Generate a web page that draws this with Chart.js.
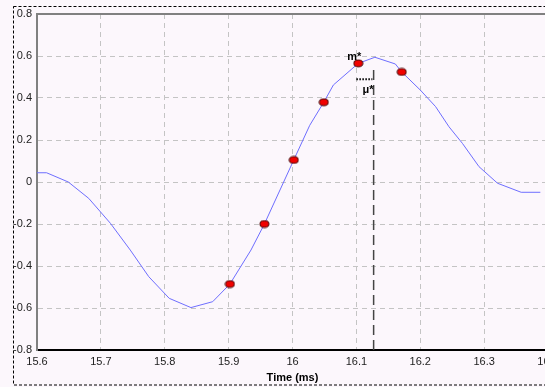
<!DOCTYPE html>
<html>
<head>
<meta charset="utf-8">
<script src="https://cdn.jsdelivr.net/npm/chart.js@4/dist/chart.umd.min.js"></script>
<style>
  html, body { margin: 0; padding: 0; overflow: hidden; background: #fcf7fc; }
  #wrap { width: 560px; height: 387px; }
</style>
</head>
<body>
<div id="wrap"><canvas id="myChart" width="560" height="387"></canvas></div>
<script>
// waveform (time in ms, amplitude)
const timeMs = [15.600, 15.615, 15.649, 15.681, 15.715, 15.746, 15.775, 15.807, 15.841, 15.875,
  15.902, 15.935, 15.956, 16.002, 16.027, 16.049, 16.064, 16.103, 16.129, 16.161,
  16.171, 16.200, 16.224, 16.245, 16.266, 16.292, 16.321, 16.358, 16.388];
const amplitude = [0.044, 0.044, 0.000, -0.078, -0.197, -0.324, -0.451, -0.554, -0.598, -0.570,
  -0.486, -0.324, -0.200, 0.105, 0.270, 0.380, 0.462, 0.565, 0.594, 0.562,
  0.524, 0.438, 0.359, 0.263, 0.184, 0.073, -0.006, -0.049, -0.049];

// sampled points (red dots)
const markTime = [15.902, 15.956, 16.002, 16.049, 16.103, 16.171];
const markAmp = [-0.486, -0.200, 0.105, 0.380, 0.565, 0.524];

// m* and mu* markers
const mTime = 16.1;
const muTime = 16.127;
const muTop = 0.533;
const lagLevel = 0.489;

// axis ticks
const xTicks = [15.6, 15.7, 15.8, 15.9, 16.0, 16.1, 16.2, 16.3, 16.4];
const yTicks = [-0.8, -0.6, -0.4, -0.2, 0, 0.2, 0.4, 0.6, 0.8];

const bg = "#fcf7fc";
const fontFamily = "'Liberation Sans', Arial, sans-serif";

// red elliptical marker
function makeDot() {
  const c = document.createElement("canvas");
  c.width = 11;
  c.height = 9;
  const g = c.getContext("2d");
  g.beginPath();
  g.ellipse(5.5, 4.5, 4.5, 3.4, 0, 0, Math.PI * 2);
  g.fillStyle = "#f00000";
  g.fill();
  g.strokeStyle = "#400000";
  g.lineWidth = 1;
  g.stroke();
  return c;
}

const fmt = (v) => String(Math.round(v * 10) / 10);

// background, dashed frame, top border and the m*/mu* text
const frame = {
  id: "frame",
  beforeDraw(chart) {
    const ctx = chart.ctx;
    ctx.save();
    ctx.fillStyle = bg;
    ctx.fillRect(0, 0, chart.width, chart.height);
    ctx.setLineDash([3, 2]);
    ctx.strokeStyle = "#000";
    ctx.lineWidth = 1;
    ctx.strokeRect(13.5, 6.5, 600, 378.5);
    ctx.restore();
  },
  afterDraw(chart) {
    const ctx = chart.ctx;
    const area = chart.chartArea;
    const x = chart.scales.x;
    const y = chart.scales.y;
    ctx.save();
    ctx.strokeStyle = "#808080";
    ctx.lineWidth = 2;
    ctx.beginPath();
    ctx.moveTo(area.left, area.top);
    ctx.lineTo(chart.width, area.top);
    ctx.stroke();

    ctx.fillStyle = "#000";
    ctx.font = "bold 11px " + fontFamily;
    ctx.textAlign = "right";
    ctx.textBaseline = "alphabetic";
    ctx.fillText("m*", x.getPixelForValue(mTime) + 5, y.getPixelForValue(markAmp[4]) - 3);
    ctx.fillText("\u03bc*", x.getPixelForValue(muTime), y.getPixelForValue(lagLevel) + 14);
    ctx.restore();
  }
};

const ctx = document.getElementById("myChart").getContext("2d");
const chart = new Chart(ctx, {
  type: "line",
  data: {
    datasets: [
      {
        type: "scatter",
        data: markTime.map((t, i) => ({ x: t, y: markAmp[i] })),
        pointStyle: makeDot(),
        pointRadius: 5,
        showLine: false,
        order: 0
      },
      {
        data: timeMs.map((t, i) => ({ x: t, y: amplitude[i] })),
        borderColor: "#6e6eff",
        borderWidth: 1,
        pointRadius: 0,
        tension: 0,
        order: 3
      },
      {
        data: [{ x: muTime, y: muTop }, { x: muTime, y: -0.8 }],
        borderColor: "#444",
        borderWidth: 1.5,
        borderDash: [10, 5],
        pointRadius: 0,
        order: 2
      },
      {
        data: [{ x: mTime, y: lagLevel }, { x: muTime - 0.002, y: lagLevel }],
        borderColor: "#000",
        borderWidth: 2,
        borderDash: [1.5, 1.5],
        pointRadius: 0,
        order: 1
      }
    ]
  },
  options: {
    responsive: false,
    animation: false,
    layout: { padding: { left: 0, top: 14, right: 12, bottom: 0 } },
    plugins: { legend: { display: false }, tooltip: { enabled: false } },
    scales: {
      x: {
        type: "linear",
        min: 15.6,
        max: 16.4,
        afterBuildTicks: (s) => { s.ticks = xTicks.map((v) => ({ value: v })); },
        afterFit: (s) => {
          s.height = 37;
          s.paddingLeft = 0;
          s.paddingRight = 0;
        },
        ticks: {
          callback: fmt,
          autoSkip: false,
          maxRotation: 0,
          padding: 5,
          color: "#222",
          font: { family: fontFamily, size: 11 }
        },
        grid: { color: "#c4c4c4", lineWidth: 1, drawTicks: false },
        border: { color: "#000", width: 2, dash: [5, 4] },
        title: {
          display: true,
          text: "Time (ms)",
          color: "#000",
          font: { family: fontFamily, size: 11, weight: "bold" },
          padding: { top: 0, bottom: 2 }
        }
      },
      y: {
        min: -0.8,
        max: 0.8,
        afterBuildTicks: (s) => { s.ticks = yTicks.map((v) => ({ value: v })); },
        afterFit: (s) => { s.width = 37; },
        ticks: {
          callback: fmt,
          padding: 5,
          color: "#222",
          font: { family: fontFamily, size: 11 }
        },
        grid: { color: "#c4c4c4", lineWidth: 1, drawTicks: false },
        border: { color: "#808080", width: 2, dash: [5, 4] }
      }
    }
  },
  plugins: [frame]
});
</script>
</body>
</html>
